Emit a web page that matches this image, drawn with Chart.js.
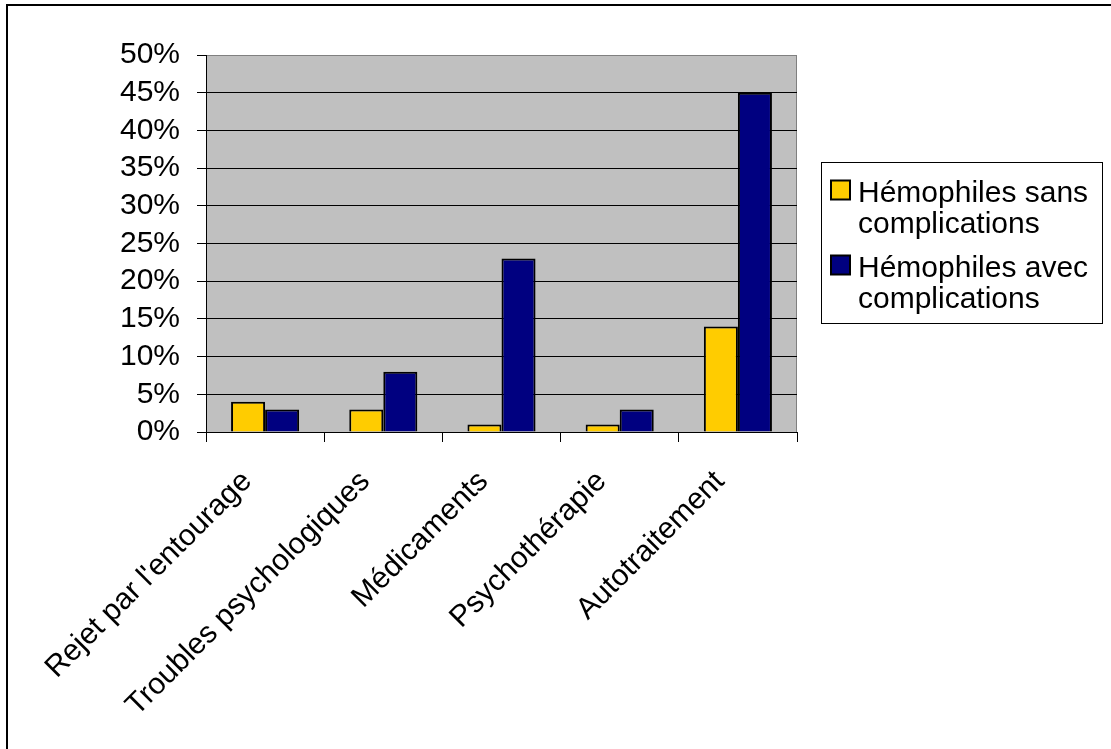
<!DOCTYPE html>
<html>
<head>
<meta charset="utf-8">
<script src="https://cdn.jsdelivr.net/npm/chart.js@4.4.0/dist/chart.umd.min.js"></script>
<style>
  html, body { margin: 0; padding: 0; background: #fff; }
  #wrap { width: 1111px; height: 749px; }
</style>
</head>
<body>
<div id="wrap"><canvas id="chart" width="1111" height="749"></canvas></div>
<script>
const categories = ["Rejet par l'entourage", 'Troubles psychologiques', 'Médicaments', 'Psychothérapie', 'Autotraitement'];
const sansComplications = [4, 3, 1, 1, 14];
const avecComplications = [3, 8, 23, 3, 45];
const seriesNames = ['Hémophiles sans complications', 'Hémophiles avec complications'];
const seriesColors = ['#FFCC00', '#000080'];
const yMax = 50;
const yStep = 5;

const FONT = '"Liberation Sans", Arial, sans-serif';

// grey plot background, frame and the outer border
const plotBg = {
  id: 'plotBg',
  beforeDraw(chart) {
    const { ctx, chartArea: a } = chart;
    ctx.save();
    ctx.fillStyle = '#fff';
    ctx.fillRect(0, 0, chart.width, chart.height);
    ctx.strokeStyle = '#000';
    ctx.lineWidth = 2;
    ctx.beginPath();
    ctx.moveTo(7, chart.height);
    ctx.lineTo(7, 5);
    ctx.lineTo(chart.width, 5);
    ctx.stroke();
    ctx.fillStyle = '#C0C0C0';
    ctx.fillRect(a.left, a.top, a.right - a.left, a.bottom - a.top);
    ctx.strokeStyle = '#808080';
    ctx.lineWidth = 1;
    ctx.beginPath();
    ctx.moveTo(a.left, a.top + 0.5);
    ctx.lineTo(a.right - 0.5, a.top + 0.5);
    ctx.lineTo(a.right - 0.5, a.bottom);
    ctx.stroke();
    ctx.restore();
  }
};

// boxed legend on the right, labels wrapped on two lines
const boxLegend = {
  id: 'boxLegend',
  afterDraw(chart) {
    const ctx = chart.ctx;
    ctx.save();
    ctx.strokeStyle = '#000';
    ctx.lineWidth = 1;
    ctx.strokeRect(821.5, 162.5, 281, 161);
    ctx.font = '30px ' + FONT;
    ctx.textBaseline = 'alphabetic';
    chart.data.datasets.forEach((ds, i) => {
      const base = 201.5 + i * 75;
      ctx.fillStyle = ds.backgroundColor;
      ctx.fillRect(831, base - 21, 19, 19);
      ctx.lineWidth = 2;
      ctx.strokeRect(831, base - 21, 19, 19);
      // wrap the label to fit the box
      const words = ds.label.split(' ');
      const lines = [];
      let cur = '';
      words.forEach(w => {
        const test = cur ? cur + ' ' + w : w;
        if (cur && ctx.measureText(test).width > 240) {
          lines.push(cur);
          cur = w;
        } else {
          cur = test;
        }
      });
      lines.push(cur);
      ctx.fillStyle = '#000';
      lines.forEach((l, j) => ctx.fillText(l, 858, base + j * 31));
    });
    ctx.restore();
  }
};

new Chart(document.getElementById('chart'), {
  type: 'bar',
  data: {
    labels: categories,
    datasets: [
      { label: seriesNames[0], data: sansComplications, backgroundColor: seriesColors[0] },
      { label: seriesNames[1], data: avecComplications, backgroundColor: seriesColors[1] }
    ]
  },
  options: {
    responsive: false,
    animation: false,
    events: [],
    layout: { padding: { left: 0, top: 55, right: 314, bottom: 0 } },
    datasets: {
      bar: {
        borderColor: '#000',
        borderWidth: 2,
        categoryPercentage: 0.576,
        barPercentage: 1
      }
    },
    plugins: {
      legend: { display: false },
      tooltip: { enabled: false }
    },
    scales: {
      x: {
        afterFit(scale) { scale.height = 317; },
        grid: {
          drawOnChartArea: false,
          color: '#000',
          tickColor: '#000',
          tickLength: 10
        },
        border: { color: '#000', width: 1 },
        ticks: {
          color: '#000',
          font: { family: FONT, size: 30 },
          minRotation: 45,
          maxRotation: 45,
          padding: 22,
          labelOffset: -18
        }
      },
      y: {
        min: 0,
        max: yMax,
        afterFit(scale) { scale.width = 206; },
        grid: {
          color: ctx => (ctx.tick && ctx.tick.value === yMax ? '#808080' : '#000'),
          tickColor: '#000',
          tickLength: 9
        },
        border: { color: '#000', width: 1 },
        ticks: {
          stepSize: yStep,
          autoSkip: false,
          color: '#000',
          padding: 17,
          font: { family: FONT, size: 30 },
          callback: v => v + '%'
        }
      }
    }
  },
  plugins: [plotBg, boxLegend]
});
</script>
</body>
</html>
